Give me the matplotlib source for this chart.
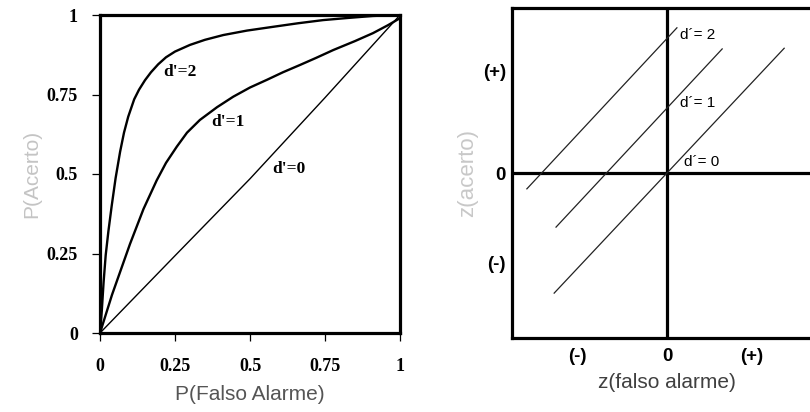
import matplotlib.pyplot as plt

# ROC curves (left panel)
far_d2 = [0, 0.006, 0.012, 0.019, 0.028, 0.039, 0.052, 0.067, 0.08, 0.094, 0.114, 0.13, 0.15, 0.17,
          0.194, 0.22, 0.25, 0.3, 0.35, 0.411, 0.49, 0.578, 0.66, 0.744, 0.83, 0.91, 1.0]
hit_d2 = [0, 0.07, 0.16, 0.245, 0.32, 0.4, 0.487, 0.57, 0.63, 0.68, 0.735, 0.765, 0.795, 0.82,
          0.845, 0.867, 0.885, 0.906, 0.922, 0.937, 0.951, 0.963, 0.974, 0.984, 0.991, 0.997, 1.0]

far_d1 = [0, 0.02, 0.04, 0.07, 0.1, 0.145, 0.189, 0.22, 0.256, 0.29, 0.333, 0.39, 0.444, 0.5,
          0.556, 0.61, 0.667, 0.72, 0.778, 0.85, 0.91, 0.96, 1.0]
hit_d1 = [0, 0.06, 0.12, 0.2, 0.28, 0.39, 0.48, 0.535, 0.586, 0.63, 0.67, 0.71, 0.743, 0.772,
          0.796, 0.82, 0.843, 0.865, 0.89, 0.918, 0.943, 0.968, 0.99]

far_d0 = [0, 0.25, 0.5, 0.75, 1.0]
hit_d0 = [0, 0.243, 0.485, 0.74, 1.0]

prob_ticks = [0, 0.25, 0.5, 0.75, 1]
prob_labels = ["0", "0.25", "0.5", "0.75", "1"]

# z-space lines (right panel): endpoints of each line
z_lines = {
    "2": ([-2.26, 0.16], [-0.24, 2.2]),
    "1": ([-1.79, 0.89], [-0.82, 1.88]),
    "0": ([-1.82, 1.89], [-1.82, 1.89]),
}
z_xticks = [-1.44, 0, 1.37]
z_yticks = [-1.35, 0, 1.56]
z_ticklabels = ["(-)", "0", "(+)"]

W, H = 810, 412
fig = plt.figure(figsize=(W / 100, H / 100), dpi=100)

serif_bold = dict(family="Liberation Serif", weight="bold")
sans = "Liberation Sans"

# ---- left panel ----
ax1 = fig.add_axes([100 / W, 1 - 333 / H, 300 / W, 318 / H])
ax1.plot(far_d2, hit_d2, color="black", lw=1.7, solid_joinstyle="round")
ax1.plot(far_d1, hit_d1, color="black", lw=1.7, solid_joinstyle="round")
ax1.plot(far_d0, hit_d0, color="black", lw=1.0)
ax1.set_xlim(0, 1)
ax1.set_ylim(0, 1)
for s in ax1.spines.values():
    s.set_linewidth(2.3)
ax1.set_xticks(prob_ticks)
ax1.set_yticks(prob_ticks)
ax1.set_xticklabels(prob_labels, fontsize=13, **serif_bold)
ax1.set_yticklabels(prob_labels, fontsize=13, **serif_bold)
ax1.tick_params(axis="x", direction="out", length=6, width=0.9, pad=12)
ax1.tick_params(axis="y", direction="out", length=6, width=0.9, pad=10)
ax1.text(0.267, 0.822, "d'=2", ha="center", va="center", fontsize=12.5, **serif_bold)
ax1.text(0.428, 0.665, "d'=1", ha="center", va="center", fontsize=12.5, **serif_bold)
ax1.text(0.628, 0.516, "d'=0", ha="center", va="center", fontsize=12.5, **serif_bold)
ax1.set_xlabel("P(Falso Alarme)", family=sans, fontsize=15, color="#555555", labelpad=7)
ax1.set_ylabel("P(Acerto)", family=sans, fontsize=15, color="#c4c4c4", labelpad=4)

# ---- right panel ----
ax2 = fig.add_axes([512 / W, 1 - 338 / H, 310 / W, 330 / H])
ax2.set_xlim(-2.5, 2.5)
ax2.set_ylim(-2.5, 2.5)
for s in ax2.spines.values():
    s.set_linewidth(2.3)
ax2.axhline(0, color="black", lw=2.3)
ax2.axvline(0, color="black", lw=2.3)
for d, (xs, ys) in z_lines.items():
    ax2.plot(xs, ys, color="#222222", lw=0.9)
ax2.text(0.21, 2.09, "d\u00b4= 2", ha="left", va="center", fontsize=11, family=sans)
ax2.text(0.21, 1.06, "d\u00b4= 1", ha="left", va="center", fontsize=11, family=sans)
ax2.text(0.27, 0.17, "d\u00b4= 0", ha="left", va="center", fontsize=11, family=sans)
ax2.set_xticks(z_xticks)
ax2.set_yticks(z_yticks)
ax2.set_xticklabels(z_ticklabels, fontsize=13.5, family=sans, weight="bold")
ax2.set_yticklabels(z_ticklabels, fontsize=13.5, family=sans, weight="bold")
ax2.tick_params(axis="x", length=0, pad=7)
ax2.tick_params(axis="y", length=0, pad=4.5)
ax2.set_xlabel("z(falso alarme)", family=sans, fontsize=15, color="#404040", labelpad=6)
ax2.set_ylabel("z(acerto)", family=sans, fontsize=16, color="#c8c8c8", labelpad=3)

fig.savefig("out.png", dpi=100)
